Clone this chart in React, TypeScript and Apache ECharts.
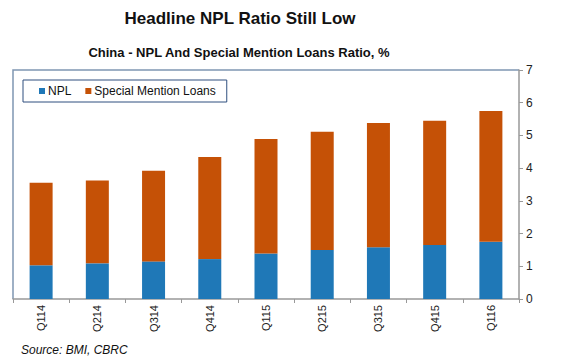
import React, { useEffect, useRef } from "react";
import * as echarts from "echarts";

const categories = ["Q114", "Q214", "Q314", "Q414", "Q115", "Q215", "Q315", "Q415", "Q116"];
const npl = [1.03, 1.09, 1.15, 1.22, 1.39, 1.5, 1.58, 1.65, 1.75];
const specialMention = [2.52, 2.53, 2.77, 3.12, 3.5, 3.61, 3.8, 3.8, 4.0];
const yTicks = [0, 7, 1];

export default function App() {
  const ref = useRef<HTMLDivElement>(null);
  useEffect(() => {
    document.body.style.margin = "0";
    const chart = echarts.init(ref.current!, null, { renderer: "svg" });
    const font = "Liberation Sans, Arial, sans-serif";
    chart.setOption({
      animation: false,
      backgroundColor: "#ffffff",
      textStyle: { fontFamily: font },
      title: [
        {
          text: "Headline NPL Ratio Still Low",
          left: 235,
          top: 5,
          textAlign: "center",
          textStyle: { fontSize: 17, fontWeight: "bold", color: "#111", fontFamily: font },
        },
        {
          text: "China - NPL And Special Mention Loans Ratio, %",
          left: 234,
          top: 41,
          textAlign: "center",
          textStyle: { fontSize: 13, fontWeight: "bold", color: "#111", fontFamily: font },
        },
        {
          text: "Source: BMI, CBRC",
          left: 16,
          top: 339,
          textStyle: { fontSize: 12, fontStyle: "italic", fontWeight: "normal", color: "#111", fontFamily: font },
        },
      ],
      legend: {
        left: 23,
        top: 80,
        itemWidth: 6,
        itemHeight: 6,
        itemGap: 14,
        icon: "rect",
        padding: [5, 11, 5, 16],
        borderColor: "#2f4f7f",
        borderWidth: 1,
        borderRadius: 0,
        textStyle: { fontSize: 12, color: "#111", fontFamily: font, padding: [0, 0, 0, -2] },
        data: ["NPL", "Special Mention Loans"],
      },
      grid: { left: 13, right: 54, top: 70, bottom: 61 },
      xAxis: {
        type: "category",
        data: categories,
        axisLine: { show: true, lineStyle: { color: "#999", width: 1.5 } },
        axisTick: { show: true, alignWithLabel: false, length: 4, lineStyle: { color: "#999" } },
        axisLabel: { rotate: 90, fontSize: 11, color: "#222", margin: 6, fontFamily: font },
      },
      yAxis: {
        type: "value",
        position: "right",
        min: yTicks[0],
        max: yTicks[1],
        interval: yTicks[2],
        splitLine: { show: false },
        axisLine: { show: true, lineStyle: { color: "#999", width: 1.5 } },
        axisTick: { show: true, inside: false, length: 4, lineStyle: { color: "#999" } },
        axisLabel: { fontSize: 12, color: "#222", margin: 7, fontFamily: font },
      },
      graphic: [
        {
          type: "polyline",
          shape: { points: [[13, 299], [13, 70], [519, 70]] },
          style: { stroke: "#7f96b2", lineWidth: 1.5, fill: null },
          z: 0,
        },
      ],
      series: [
        {
          name: "NPL",
          type: "bar",
          stack: "total",
          barWidth: 23,
          data: npl,
          itemStyle: { color: "#1f78b7" },
        },
        {
          name: "Special Mention Loans",
          type: "bar",
          stack: "total",
          barWidth: 23,
          data: specialMention,
          itemStyle: { color: "#c55106" },
        },
      ],
    });
    return () => chart.dispose();
  }, []);
  return <div ref={ref} style={{ width: 573, height: 360 }} />;
}
